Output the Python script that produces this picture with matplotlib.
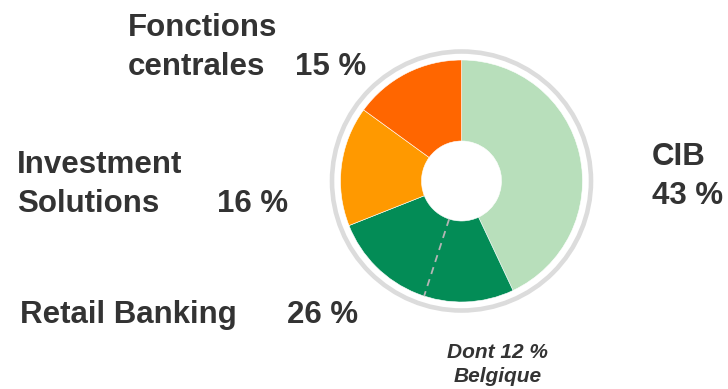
import matplotlib
matplotlib.use("Agg")
import matplotlib.pyplot as plt
from matplotlib.patches import Circle

# Breakdown by business line (%)
segments = ["CIB", "Retail Banking", "Investment Solutions", "Fonctions centrales"]
shares = [43, 26, 16, 15]
colors = ["#b8dfbb", "#038c56", "#ff9900", "#ff6600"]
belgium_share = 12  # part of Retail Banking

W, H = 728, 389
fig = plt.figure(figsize=(W / 100, H / 100), dpi=100)
ax = fig.add_axes([0, 0, 1, 1])
ax.set_xlim(0, W)
ax.set_ylim(0, H)
ax.set_aspect("equal")
ax.axis("off")


def Y(py):
    return H - py


cx, cy = 461.5, Y(181)
r_out, r_in = 121, 40

ax.pie(shares, colors=colors, startangle=90, counterclock=False,
       radius=r_out, center=(cx, cy), frame=True,
       wedgeprops=dict(width=r_out - r_in, edgecolor="white", linewidth=0.4))
ax.set_xlim(0, W)
ax.set_ylim(0, H)
ax.axis("off")

# outer grey ring
ax.add_patch(Circle((cx, cy), 129.5, fill=False, edgecolor="#dcdcdc",
                    linewidth=3.3))

# dashed split marking the Belgian part of Retail Banking
import numpy as np
frac = (shares[0] + belgium_share) / 100.0
theta = np.deg2rad(90 - 360 * frac)
ax.plot([cx + r_in * np.cos(theta), cx + r_out * np.cos(theta)],
        [cy + r_in * np.sin(theta), cy + r_out * np.sin(theta)],
        color="#b5b5b5", linewidth=1.3, linestyle=(0, (4, 3)))

txt = dict(color="#333333", fontsize=22.5, fontweight="bold",
           family="Liberation Sans", va="baseline", ha="left")

ax.text(128, Y(36), "Fonctions", **txt)
ax.text(128, Y(75), "centrales", **txt)
ax.text(295, Y(75), f"{shares[3]} %", **txt)

ax.text(17, Y(173), "Investment", **txt)
ax.text(17, Y(212), "Solutions", **txt)
ax.text(217, Y(212), f"{shares[2]} %", **txt)

ax.text(20, Y(323), "Retail Banking", **txt)
ax.text(287, Y(323), f"{shares[1]} %", **txt)

ax.text(652, Y(165), "CIB", **txt)
ax.text(652, Y(204), f"{shares[0]} %", **txt)

note = dict(color="#333333", fontsize=15, fontweight="bold", style="italic",
            family="Liberation Sans", va="baseline", ha="center")
ax.text(497.5, Y(358), f"Dont {belgium_share} %", **note)
ax.text(497.5, Y(382), "Belgique", **note)

fig.savefig("out.png", dpi=100)
